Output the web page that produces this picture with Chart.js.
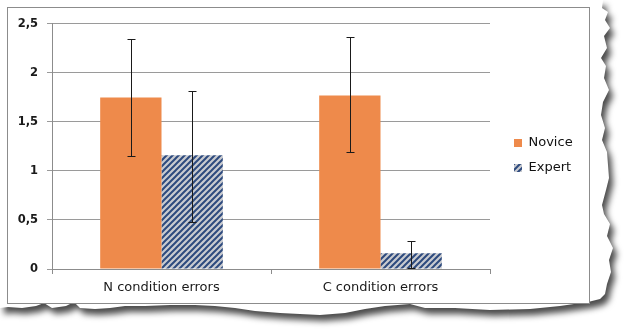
<!DOCTYPE html>
<html>
<head>
<meta charset="utf-8">
<script src="https://cdn.jsdelivr.net/npm/chart.js@4.4.1/dist/chart.umd.min.js"></script>
<style>
  html, body { margin: 0; padding: 0; background: #fff; }
  #page { position: relative; width: 624px; height: 330px; overflow: hidden; background: #fff; }
  #shadow { position: absolute; left: 0; top: 0; width: 624px; height: 330px; filter: drop-shadow(4px 6px 3px rgba(0,0,0,0.7)); }
  #paper { position: absolute; left: 0; top: 0; width: 624px; height: 330px; background: #fff;
    clip-path: polygon(0 0, 603px 0, 602px 8px, 608px 12px, 605px 20px, 610px 28px, 604px 36px, 607px 48px, 601px 58px, 606px 66px, 604px 78px, 609px 90px, 603px 102px, 601px 115px, 605px 128px, 602px 140px, 607px 152px, 608px 165px, 609px 178px, 606px 190px, 602px 205px, 604px 214px, 610px 224px, 607px 236px, 613px 248px, 609px 260px, 611px 272px, 607px 284px, 605px 294px, 600px 299px, 588px 302px, 560px 306px, 530px 309px, 490px 310px, 455px 308px, 425px 308px, 410px 304px, 385px 306px, 365px 309px, 345px 313px, 320px 315px, 300px 314px, 280px 313px, 255px 311px, 235px 308px, 215px 306px, 195px 305px, 170px 305px, 145px 306px, 125px 306px, 110px 308px, 95px 309px, 80px 308px, 74px 302px, 66px 306px, 52px 308px, 44px 303px, 36px 306px, 22px 308px, 8px 307px, 0 308px);
  }
  #box { position: absolute; left: 7px; top: 7px; width: 581px; height: 295px; border: 1px solid #8c8c8c; background: #fff; }
  #chart { position: absolute; left: 0; top: 0; }
</style>
</head>
<body>
<div id="page">
  <div id="shadow"><div id="paper"></div></div>
  <div id="box"><canvas id="chart" width="581" height="295"></canvas></div>
</div>
<script>
const categories = ['N condition errors', 'C condition errors'];
const seriesNames = ['Novice', 'Expert'];
const noviceMeans = [1.75, 1.77];
const expertMeans = [1.16, 0.16];
const noviceLow = [1.15, 1.19];
const noviceHigh = [2.35, 2.37];
const expertLow = [0.48, 0.01];
const expertHigh = [1.82, 0.285];
const yTicks = [0, 0.5, 1, 1.5, 2, 2.5];

const ORANGE = '#ee8a4b';

function stripePattern() {
  const c = document.createElement('canvas');
  c.width = 6; c.height = 6;
  const g = c.getContext('2d');
  g.fillStyle = '#c9cbd0';
  g.fillRect(0, 0, 6, 6);
  g.strokeStyle = '#2d4a7e';
  g.lineWidth = 2;
  g.beginPath();
  g.moveTo(-1, 7); g.lineTo(7, -1);
  g.moveTo(-1, 1); g.lineTo(1, -1);
  g.moveTo(5, 7); g.lineTo(7, 5);
  g.stroke();
  return g.createPattern(c, 'repeat');
}

const ctx = document.getElementById('chart').getContext('2d');
const hatch = stripePattern();

// error bars drawn through the y scale
const errorBars = {
  id: 'errorBars',
  afterDatasetsDraw(chart) {
    const y = chart.scales.y;
    const lows = [noviceLow, expertLow];
    const highs = [noviceHigh, expertHigh];
    const c = chart.ctx;
    c.save();
    c.strokeStyle = '#1a1a1a';
    c.lineWidth = 1;
    chart.data.datasets.forEach((ds, di) => {
      chart.getDatasetMeta(di).data.forEach((bar, i) => {
        const x = Math.round(bar.x) + 0.5;
        const yl = Math.round(y.getPixelForValue(lows[di][i])) + 0.5;
        const yh = Math.round(y.getPixelForValue(highs[di][i])) + 0.5;
        c.beginPath();
        c.moveTo(x, yl); c.lineTo(x, yh);
        c.moveTo(x - 4, yl); c.lineTo(x + 4, yl);
        c.moveTo(x - 4, yh); c.lineTo(x + 4, yh);
        c.stroke();
      });
    });
    c.restore();
  }
};

// fixed legend column width and a small nudge of its items
const legendPlace = {
  id: 'legendPlace',
  afterInit(chart) {
    const lg = chart.legend;
    const fit = lg.fit;
    lg.fit = function() { fit.call(this); this.width = 99; };
    const draw = lg.draw;
    lg.draw = function() {
      const c = this.ctx;
      c.save();
      c.translate(12, -4);
      draw.apply(this, arguments);
      c.restore();
    };
  }
};

new Chart(ctx, {
  type: 'bar',
  data: {
    labels: categories,
    datasets: [
      { label: seriesNames[0], data: noviceMeans, backgroundColor: ORANGE },
      { label: seriesNames[1], data: expertMeans, backgroundColor: hatch }
    ]
  },
  options: {
    responsive: false,
    animation: false,
    layout: { padding: { top: 8, right: 0, left: 0, bottom: 0 } },
    datasets: { bar: { categoryPercentage: 0.56, barPercentage: 1.0 } },
    plugins: {
      tooltip: { enabled: false },
      legend: {
        position: 'right',
        labels: {
          boxWidth: 8, boxHeight: 8, padding: 12,
          color: '#111',
          font: { family: 'DejaVu Sans', size: 13 }
        }
      }
    },
    scales: {
      x: {
        grid: { display: true, drawOnChartArea: false, offset: true, color: '#8c8c8c', tickLength: 5 },
        border: { color: '#8c8c8c' },
        ticks: { color: '#1a1a1a', padding: 6, font: { family: 'DejaVu Sans', size: 13 } },
        afterFit: s => { s.height = 34; }
      },
      y: {
        min: 0, max: 2.5,
        afterBuildTicks: s => { s.ticks = yTicks.map(v => ({ value: v })); },
        grid: { color: '#9a9a9a', tickLength: 5 },
        border: { color: '#8c8c8c' },
        ticks: {
          color: '#1a1a1a', padding: 9,
          font: { family: 'DejaVu Sans', size: 11.5, weight: 'bold' },
          callback: v => String(v).replace('.', ',')
        },
        afterFit: s => { s.width = 44; }
      }
    }
  },
  plugins: [errorBars, legendPlace]
});
</script>
</body>
</html>
